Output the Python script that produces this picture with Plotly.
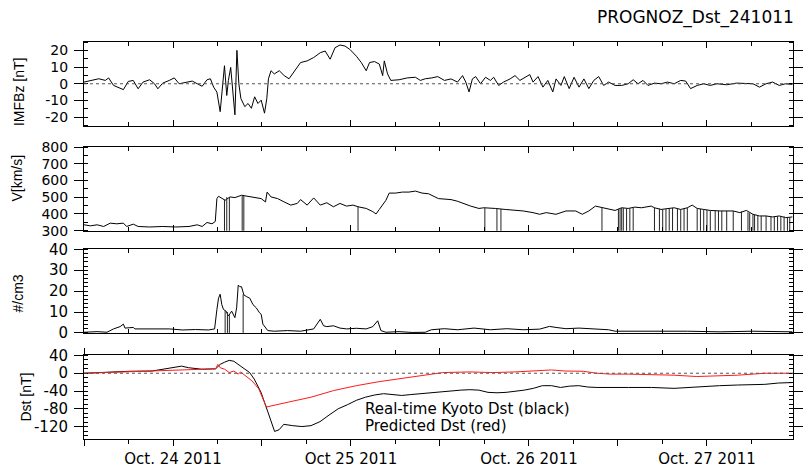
import plotly.graph_objects as go
import pandas as pd

START = pd.Timestamp("2011-10-23 12:00")

# ---------------- IMF Bz [nT] ----------------
imf_hours = [0.0, 1.33, 1.99, 2.88, 3.32, 3.98, 5.31, 5.97, 6.64, 7.30, 7.96, 8.85, 9.51, 9.96,
             10.62, 11.50, 12.17, 12.83, 13.72, 14.60, 15.27, 15.93, 16.59, 17.04, 17.48, 17.92,
             18.36, 18.58, 18.94, 19.25, 19.47, 19.78, 20.04, 20.35, 20.62, 20.88, 21.15, 21.68,
             22.12, 22.57, 23.01, 23.45, 23.89, 24.34, 24.65, 24.87, 25.22, 25.66, 26.33, 26.99,
             27.65, 28.32, 29.20, 30.09, 30.97, 31.86, 32.52, 33.19, 33.85, 34.51, 35.18, 35.84,
             36.73, 37.39, 38.05, 38.50, 39.16, 39.82, 40.27, 40.49, 40.93, 41.37, 42.48, 43.58,
             44.69, 45.35, 46.02, 46.90, 47.70, 48.60, 49.49, 50.37, 51.04, 51.48, 51.92, 52.37,
             52.81, 53.47, 54.14, 54.80, 55.24, 55.91, 56.57, 57.45, 58.12, 58.78, 59.45, 60.11,
             60.55, 61.22, 61.88, 62.54, 63.21, 63.65, 64.31, 64.76, 65.42, 66.08, 66.75, 67.41,
             68.07, 68.74, 69.40, 70.07, 70.73, 71.61, 72.50, 73.38, 74.05, 74.71, 75.38, 76.04,
             76.92, 77.81, 78.69, 79.58, 80.46, 81.13, 81.79, 82.68, 83.56, 84.45, 85.33, 86.66,
             87.99, 89.31, 90.20, 91.08, 91.97, 92.85, 93.74, 94.62, 95.51]
imf_bz = [1, 2.4, 3, 2, 3.5, -1, -3.5, 1.4, 2, -3, 1, 2.4, 0, -3,
          0.4, 2, 3.5, 0, 1, 1.6, 0, -1.5, 2.4, 3, -2, -5,
          -16.7, -7, 10.8, -7, 2, 9.8, -2, -18.6, 20, 0, -8.8, -13.7,
          -11.8, -14.7, -7.8, -11.8, -9.8, -17.6, -8.8, 3, 7.8, 5.9, 7.8, 4.9,
          3, 6.9, 12.7, 13.7, 15.7, 18.6, 19.6, 14.7, 21.6, 23.2, 22.6, 20.6,
          16.5, 12.7, 7.8, 12.7, 13.3, 11.8, 4.9, 13.7, 5.9, 2, 2.4, 3.5,
          3.9, 2, 3, 3.5, 4.3, 2, 2.9, 1, 4.9, 1, -4.9, 2.9,
          4.3, 0, 3.9, 2, 3.9, -1, 1, 2.9, 4.9, 2, 3.9, 5.5,
          1, 4.3, -2, 2, -4.9, 2.9, -1, 4.3, -2.9, 3.9, -2, 2.9,
          -2.9, 2, 4.3, -1, 1, -1, -1, 0, 2.4, 0, 2, -1,
          0.4, 0, 1, 0, 2, 1.6, -2.9, -1, 0, -1, 0, -0.6,
          0.4, 0, 0, -2, 0, 1, -1, 0, -0.4]

# ---------------- Solar wind speed V [km/s] ----------------
v_hours = [0, 0.88, 1.77, 2.65, 3.54, 4.42, 5.31, 5.75, 6.64, 7.30, 8.85, 10.62, 12.39, 14.16,
           15.27, 15.93, 16.59, 17.26, 17.70, 17.92, 18.14, 18.58, 19.03, 19.69, 20.35, 21.24,
           22.12, 23.01, 23.89, 24.47, 24.69, 25.22, 26.11, 26.99, 27.88, 28.76, 29.20, 30.09,
           30.97, 31.86, 32.74, 33.63, 34.51, 35.40, 36.28, 36.95, 38.05, 38.94, 39.38, 39.82,
           40.27, 40.71, 41.15, 42.04, 42.92, 43.81, 44.69, 45.58, 46.46, 47.35, 47.79, 49.49,
           50.37, 52.14, 53.25, 53.91, 54.80, 55.46, 56.79, 58.34, 59.22, 60.55, 61.44, 62.32,
           63.65, 64.98, 66.30, 67.19, 68.07, 68.96, 69.84, 70.73, 71.61, 72.50, 73.38, 74.27,
           75.15, 76.48, 76.92, 77.81, 78.69, 79.58, 80.46, 81.35, 82.01, 82.68, 83.56, 84.45,
           85.77, 86.66, 87.54, 88.43, 89.31, 90.20, 91.08, 91.97, 92.85, 93.74, 94.62, 95.51]
v_kms = [335, 329, 335, 325, 345, 341, 345, 325, 339, 325, 322, 325, 322, 325,
         335, 325, 349, 341, 355, 492, 506, 492, 482, 502, 498, 512,
         506, 502, 492, 472, 531, 502, 492, 472, 453, 463, 486, 453,
         496, 453, 467, 443, 463, 447, 453, 443, 433, 414, 400, 427,
         453, 482, 525, 525, 531, 531, 537, 525, 521, 502, 492, 486,
         476, 447, 433, 437, 437, 433, 427, 421, 418, 408, 398, 408,
         398, 418, 418, 398, 418, 447, 437, 427, 421, 437, 433, 441,
         437, 447, 437, 427, 433, 437, 427, 437, 453, 433, 427, 421,
         418, 418, 418, 408, 421, 398, 388, 388, 382, 388, 378, 382]
# data dropouts (hours) and the speed level where each drop starts
v_drop_hours = [18.94, 19.25, 19.60, 21.33, 21.55, 36.95, 54.05, 55.68, 56.22, 69.84,
                72.06, 72.28, 72.50, 72.72, 73.16, 73.60, 74.05, 76.92, 77.59, 78.03,
                78.47, 78.91, 79.36, 80.02, 80.46, 80.91, 81.35, 82.68, 83.12, 83.56,
                84.00, 84.45, 85.11, 85.55, 86.00, 86.66, 87.54, 88.65, 89.53, 89.76,
                90.20, 90.42, 90.86, 91.31, 91.97, 92.63, 93.08, 93.52, 93.96, 94.40,
                94.85, 95.16]
v_drop_level = [485, 500, 500, 510, 508, 443, 437, 433, 430, 437,
                430, 432, 437, 435, 433, 435, 441, 437, 432, 428,
                430, 433, 436, 432, 427, 432, 437, 433, 430, 427,
                425, 421, 420, 419, 418, 418, 418, 415, 410, 405,
                398, 395, 390, 388, 388, 385, 383, 385, 388, 385,
                380, 380]

# ---------------- Proton density [#/cm3] ----------------
n_hours = [0, 1.77, 3.10, 3.98, 4.87, 5.31, 5.53, 6.64, 6.86, 7.96, 9.73, 11.50, 13.27, 15.04,
           16.81, 17.61, 17.92, 18.14, 18.36, 18.58, 18.81, 19.16, 19.47, 19.91, 20.35, 20.58,
           20.80, 21.02, 21.24, 21.55, 21.90, 22.35, 22.79, 23.23, 23.67, 23.89, 24.12, 24.56,
           24.78, 25.66, 27.43, 29.20, 30.97, 31.86, 32.30, 32.74, 33.63, 34.51, 35.40, 36.73,
           38.05, 38.94, 39.60, 40.04, 40.71, 42.48, 44.25, 46.02, 46.83, 48.60, 50.37, 52.59,
           54.80, 57.01, 59.22, 61.44, 62.76, 63.65, 64.98, 66.75, 68.96, 70.73, 71.61, 73.38,
           76.92, 81.35, 85.77, 90.20, 95.51]
n_cm3 = [0.3, 0.6, 0.3, 1.9, 3, 4.2, 2.3, 2.6, 1.9, 1.9, 1.6, 1.9, 1.4, 1.6,
         1.4, 1.9, 11.2, 16.6, 18.5, 13.5, 11.2, 10.4, 8.1, 10.4, 7.3, 12,
         22.9, 22.1, 22.1, 18.2, 17.4, 16.6, 13.5, 12, 9.6, 8.9, 4.2, 1.9,
         1.1, 0.8, 1.1, 0.8, 1.9, 6.5, 3.4, 3, 3.4, 2.3, 1.9, 2.2,
         1.9, 3, 5.8, 1.1, 0.3, 0.6, 0.2, 0.3, 1.5, 2, 1.5, 2.3,
         1.5, 2, 1.5, 1.8, 3.1, 2.6, 2, 2.3, 1.8, 1.5, 0.8, 0.8,
         1.1, 0.8, 0.5, 0.8, 0.5]
n_drop_hours = [19.03, 19.34, 19.60, 21.46]
n_drop_level = [10.5, 10, 8.5, 18.5]

# ---------------- Dst [nT] ----------------
dst_obs_hours = [0.00, 3.06, 6.12, 9.18, 12.24, 13.16, 14.08, 15.91, 17.75, 18.36, 18.97, 19.58,
                 20.20, 20.81, 21.73, 22.34, 22.95, 23.87, 24.79, 25.70, 26.32, 26.93, 28.15,
                 29.38, 30.60, 31.82, 33.05, 34.27, 35.50, 36.72, 37.94, 39.17, 40.39, 41.62,
                 42.84, 44.06, 45.29, 46.51, 47.74, 48.96, 50.80, 52.02, 53.24, 54.47, 55.69,
                 56.92, 58.14, 59.36, 60.59, 61.81, 63.04, 64.26, 65.48, 66.71, 67.93, 69.16,
                 73.44, 76.50, 79.56, 81.40, 83.23, 85.68, 88.13, 90.58, 91.80, 93.64, 95.47]
dst_obs = [0, 3, 4.4, 5, 12.5, 16, 12.5, 9, 10, 20, 25, 29,
           27, 20, 9, 1.5, -13, -43, -87, -131, -127, -115, -118,
           -120, -118, -109, -94, -80, -71, -61, -54, -49, -46, -48,
           -50, -48, -46, -45, -43, -41, -38, -37, -38, -43, -44,
           -43, -41, -38, -34, -28, -28, -32, -29, -28, -31, -32,
           -32, -32, -34, -32, -29, -28, -26.5, -26, -25, -22, -21]
dst_pred_hours = [0, 6.12, 12.24, 17.75, 18.05, 18.36, 18.97, 19.58, 20.20, 20.81, 21.11, 21.73,
                  22.64, 23.56, 24.60, 27.54, 30.60, 33.66, 36.72, 39.78, 42.84, 45.90, 48.35,
                  52.02, 55.08, 58.14, 61.20, 63.04, 64.87, 67.32, 69.16, 70.99, 73.44, 76.50,
                  79.56, 82.62, 85.68, 88.13, 91.80, 95.47]
dst_pred = [0, 4, 6.6, 10, 20, 12.5, 9, 1.5, 5, -2, 3, -6,
            -17, -35, -76, -65, -54, -39, -28, -19, -12, -4.4, 1.5,
            3, 1.5, 3, 5, 7.4, 5, 4.4, 0, -2, -2, -3,
            -4.4, -7.4, -6, -4.4, 0, 0]

# ---------------- axis labels ----------------
x_tick_hours = [0, 12, 24, 36, 48, 60, 72, 84, 96]
x_tick_labels = ["", "Oct. 24 2011", "", "Oct 25 2011", "", "Oct. 26 2011", "", "Oct. 27 2011", ""]
imf_ticks = [-20, -10, 0, 10, 20]
imf_tick_labels = ["-20", "-10", "0", "10", "20"]
v_ticks = [300, 400, 500, 600, 700, 800]
n_ticks = [0, 10, 20, 30, 40]
dst_ticks = [-120, -80, -40, 0, 40]
dst_tick_labels = ["-120", "-80", "-40", "0", "40"]


def to_time(hours):
    return [START + pd.Timedelta(hours=h) for h in hours]


def drop_segments(hours, levels):
    xs, ys = [], []
    for h, lv in zip(hours, levels):
        xs += [START + pd.Timedelta(hours=h)] * 2 + [None]
        ys += [lv, 0, None]
    return xs, ys


FONT = "DejaVu Sans"
LINE = dict(color="black", width=1)

fig = go.Figure()
fig.add_trace(go.Scatter(x=to_time(imf_hours), y=imf_bz, mode="lines", line=LINE,
                         xaxis="x", yaxis="y", showlegend=False))
fig.add_trace(go.Scatter(x=to_time(v_hours), y=v_kms, mode="lines", line=LINE,
                         xaxis="x2", yaxis="y2", showlegend=False))
dx, dy = drop_segments(v_drop_hours, v_drop_level)
fig.add_trace(go.Scatter(x=dx, y=dy, mode="lines", line=dict(color="#222", width=1),
                         xaxis="x2", yaxis="y2", showlegend=False))
fig.add_trace(go.Scatter(x=to_time(n_hours), y=n_cm3, mode="lines", line=LINE,
                         xaxis="x3", yaxis="y3", showlegend=False))
dx, dy = drop_segments(n_drop_hours, n_drop_level)
fig.add_trace(go.Scatter(x=dx, y=dy, mode="lines", line=dict(color="#222", width=1),
                         xaxis="x3", yaxis="y3", showlegend=False))
fig.add_trace(go.Scatter(x=to_time(dst_obs_hours), y=dst_obs, mode="lines", line=LINE,
                         xaxis="x4", yaxis="y4", name="Real-time Kyoto Dst (black)", showlegend=False))
fig.add_trace(go.Scatter(x=to_time(dst_pred_hours), y=dst_pred, mode="lines",
                         line=dict(color="#ff1a1a", width=1),
                         xaxis="x4", yaxis="y4", name="Predicted Dst (red)", showlegend=False))

x_range = [START, START + pd.Timedelta(hours=95.6)]
tickvals_x = to_time(x_tick_hours)


def xaxis(domain_anchor, bottom=False):
    return dict(
        anchor=domain_anchor, range=x_range, type="date",
        tickmode="array", tickvals=tickvals_x, ticktext=x_tick_labels,
        showticklabels=bottom, ticks="outside" if bottom else "inside",
        ticklen=6, tickcolor="black", tickwidth=1,
        minor=dict(dtick=6 * 3600 * 1000, tick0=START, ticks="outside" if bottom else "inside",
                   ticklen=4, tickcolor="black"),
        showline=True, linecolor="black", linewidth=1, mirror="ticks",
        showgrid=False, zeroline=False,
        tickfont=dict(family=FONT, size=15, color="black"),
    )


def yaxis(domain, rng, tickvals, ticktext, minor_dtick, size=15):
    return dict(
        domain=domain, range=rng, tickmode="array", tickvals=tickvals, ticktext=ticktext,
        ticks="outside", ticklen=9, tickcolor="black",
        minor=dict(dtick=minor_dtick, ticks="inside", ticklen=4, tickcolor="black"),
        showline=True, linecolor="black", linewidth=1, mirror="ticks",
        showgrid=False, zeroline=False, ticklabelstandoff=3,
        tickfont=dict(family=FONT, size=size, color="black"),
    )


fig.update_layout(
    width=807, height=472,
    margin=dict(l=84, r=4, t=42, b=26),
    paper_bgcolor="white", plot_bgcolor="white",
    xaxis=xaxis("y"), xaxis2=xaxis("y2"), xaxis3=xaxis("y3"), xaxis4=xaxis("y4", bottom=True),
    yaxis=yaxis([0.7896, 1.0], [-25, 25], imf_ticks, imf_tick_labels, 5, size=14),
    yaxis2=yaxis([0.5248, 0.7351], [300, 800], v_ticks, [str(v) for v in v_ticks], 50, size=14),
    yaxis3=yaxis([0.2673, 0.4777], [0, 40], n_ticks, [str(v) for v in n_ticks], 2),
    yaxis4=yaxis([0.0, 0.2104], [-148, 40], dst_ticks, dst_tick_labels, 10),
)

for yref in ("y", "y4"):
    xr = "x domain" if yref == "y" else "x4 domain"
    fig.add_shape(type="line", xref=xr, yref=yref, x0=0, x1=1, y0=0, y1=0,
                  line=dict(color="#555", width=1, dash="dot"))

ann = [
    dict(text="PROGNOZ_Dst_241011", x=1.004, y=1.062, xanchor="right", yanchor="middle",
         font=dict(family=FONT, size=17, color="black")),
    dict(text="IMFBz [nT]", x=-0.0918, y=0.8738, textangle=-90),
    dict(text="V[km/s]", x=-0.0946, y=0.6584, textangle=-90),
    dict(text="#/cm3", x=-0.0932, y=0.3663, textangle=-90),
    dict(text="Dst [nT]", x=-0.0821, y=0.1064, textangle=-90),
    dict(text="Real-time Kyoto Dst (black)", x=0.3936, y=0.0767, xanchor="left", yanchor="middle",
         font=dict(family=FONT, size=15, color="black")),
    dict(text="Predicted Dst (red)", x=0.3936, y=0.0322, xanchor="left", yanchor="middle",
         font=dict(family=FONT, size=15, color="black")),
]
for a in ann:
    a.setdefault("xanchor", "center")
    a.setdefault("yanchor", "middle")
    a.setdefault("font", dict(family="Liberation Sans", size=14, color="black"))
    fig.add_annotation(xref="paper", yref="paper", showarrow=False, **a)

fig.write_html("out.html")
